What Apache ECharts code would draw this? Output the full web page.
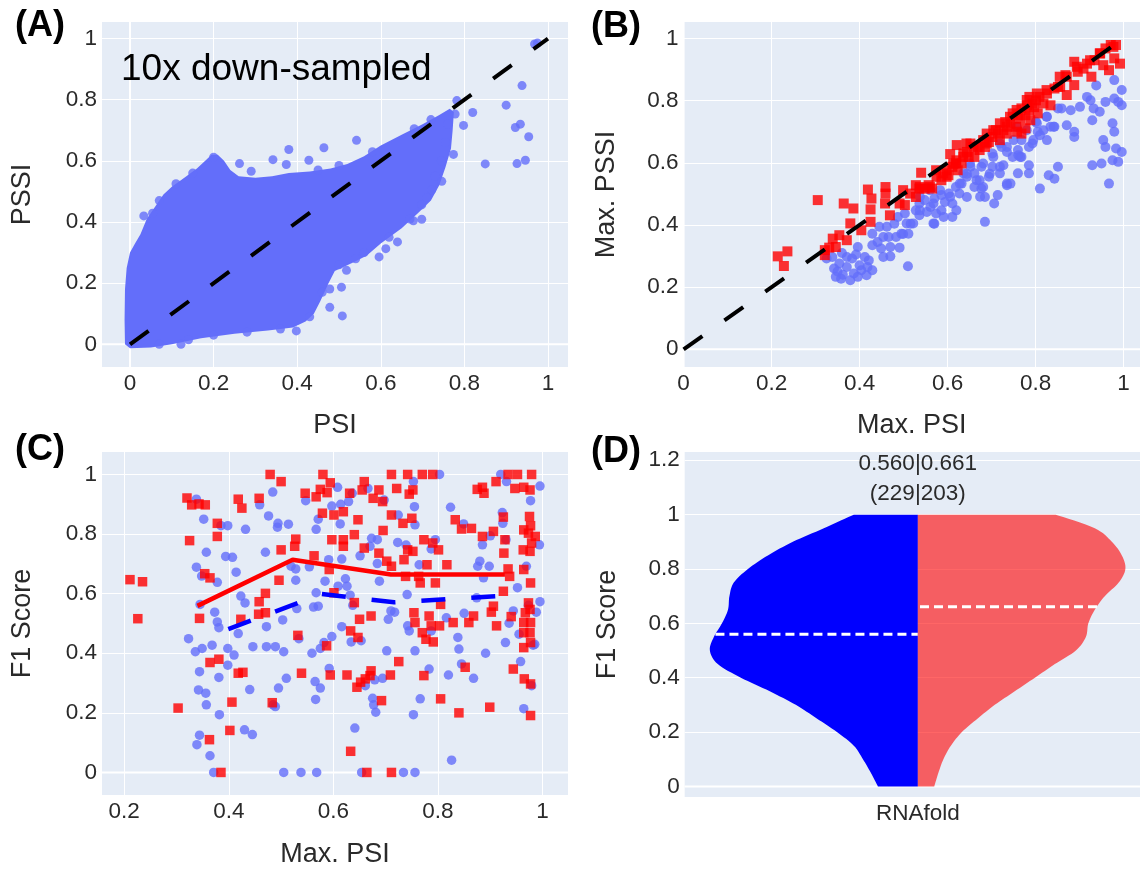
<!DOCTYPE html>
<html>
<head>
<meta charset="utf-8">
<script src="https://cdn.jsdelivr.net/npm/echarts@6/dist/echarts.min.js"></script>
<style>
html, body { margin: 0; padding: 0; background: #ffffff; }
#chart { width: 1140px; height: 869px; }
</style>
</head>
<body>
<div id="chart"></div>
<script>
// ---------- tick labels ----------
const unitTicks = [0, 0.2, 0.4, 0.6, 0.8, 1];
const maxPsiTicksC = [0.2, 0.4, 0.6, 0.8, 1];
const f1TicksD = [0, 0.2, 0.4, 0.6, 0.8, 1, 1.2];
const violinCategory = ['RNAfold'];
const diagonal = [[0, 0], [1, 1]];

// ---------- (A) PSI vs PSSI, dense cloud outline + sparse edge points ----------
const cloudOutline = [
  [-0.012, 0.0], [-0.013, 0.08], [-0.012, 0.18], [-0.008, 0.25], [0.0, 0.3], [0.012, 0.33],
  [0.025, 0.36], [0.04, 0.41], [0.06, 0.45], [0.08, 0.49], [0.1, 0.515], [0.13, 0.545],
  [0.16, 0.575], [0.18, 0.6], [0.195, 0.62], [0.21, 0.62], [0.225, 0.6], [0.24, 0.57],
  [0.26, 0.55], [0.3, 0.545], [0.34, 0.55], [0.38, 0.56], [0.43, 0.565], [0.48, 0.575],
  [0.52, 0.59], [0.56, 0.615], [0.6, 0.65], [0.65, 0.685], [0.7, 0.72], [0.74, 0.75],
  [0.765, 0.77], [0.775, 0.76], [0.772, 0.7], [0.768, 0.64], [0.755, 0.58], [0.74, 0.52],
  [0.72, 0.47], [0.69, 0.43], [0.65, 0.38], [0.6, 0.33], [0.566, 0.29], [0.53, 0.265],
  [0.49, 0.24], [0.475, 0.2], [0.455, 0.14], [0.44, 0.1], [0.42, 0.075], [0.39, 0.055],
  [0.33, 0.045], [0.25, 0.035], [0.17, 0.02], [0.1, 0.0], [0.05, -0.01], [0.0, -0.013]
];
const cloudEdgePoints = [
  [0.968, 0.982], [0.975, 0.985], [0.938, 0.846], [0.9, 0.782], [0.82, 0.758], [0.798, 0.716],
  [0.778, 0.753], [0.782, 0.797], [0.922, 0.709], [0.934, 0.72], [0.954, 0.679], [0.85, 0.59],
  [0.926, 0.591], [0.946, 0.602], [0.774, 0.621], [0.746, 0.533], [0.722, 0.505], [0.698, 0.456],
  [0.698, 0.409], [0.678, 0.404], [0.64, 0.335], [0.612, 0.313], [0.596, 0.286], [0.54, 0.28],
  [0.518, 0.242], [0.506, 0.187], [0.478, 0.181], [0.478, 0.121], [0.508, 0.093], [0.398, 0.044],
  [0.122, 0.0], [0.542, 0.667], [0.464, 0.643], [0.38, 0.637], [0.428, 0.602], [0.262, 0.591],
  [0.2, 0.612], [0.033, 0.42], [0.054, 0.429], [0.29, 0.566], [0.342, 0.604], [0.374, 0.588],
  [0.76, 0.72], [0.755, 0.66], [0.745, 0.6], [0.73, 0.55], [0.71, 0.48], [0.67, 0.41],
  [0.62, 0.35], [0.56, 0.3], [0.5, 0.26], [0.46, 0.17], [0.43, 0.09], [0.36, 0.05],
  [0.28, 0.04], [0.2, 0.03], [0.14, 0.015], [0.07, 0.0], [0.45, 0.57], [0.5, 0.585],
  [0.58, 0.63], [0.68, 0.705], [0.72, 0.735], [0.15, 0.56], [0.11, 0.525], [0.07, 0.47]
];

// ---------- (B) Max. PSI vs Max. PSSI ----------
const maxPssiBlue = [
  [0.325, 0.292], [0.338, 0.297], [0.342, 0.26], [0.346, 0.233], [0.358, 0.227], [0.354, 0.276],
  [0.371, 0.265], [0.379, 0.222], [0.387, 0.244], [0.396, 0.233], [0.404, 0.254], [0.416, 0.238],
  [0.429, 0.254], [0.412, 0.297], [0.396, 0.329], [0.383, 0.292], [0.371, 0.297], [0.429, 0.335],
  [0.441, 0.345], [0.449, 0.324], [0.429, 0.372], [0.445, 0.394], [0.454, 0.361], [0.47, 0.329],
  [0.47, 0.299], [0.491, 0.327], [0.51, 0.267], [0.462, 0.394], [0.479, 0.404], [0.487, 0.426],
  [0.495, 0.372], [0.511, 0.372], [0.516, 0.404], [0.503, 0.437], [0.528, 0.447], [0.536, 0.469],
  [0.548, 0.48], [0.561, 0.458], [0.57, 0.404], [0.574, 0.437], [0.586, 0.447], [0.594, 0.474],
  [0.611, 0.426], [0.611, 0.469], [0.603, 0.501], [0.619, 0.522], [0.632, 0.533], [0.644, 0.555],
  [0.644, 0.49], [0.661, 0.566], [0.661, 0.522], [0.673, 0.544], [0.685, 0.49], [0.685, 0.41],
  [0.677, 0.517], [0.694, 0.555], [0.702, 0.587], [0.706, 0.469], [0.714, 0.496], [0.719, 0.566],
  [0.727, 0.592], [0.735, 0.533], [0.743, 0.533], [0.748, 0.619], [0.76, 0.641], [0.768, 0.619],
  [0.785, 0.592], [0.785, 0.566], [0.793, 0.662], [0.805, 0.7], [0.826, 0.673], [0.834, 0.716],
  [0.826, 0.748], [0.851, 0.775], [0.843, 0.716], [0.83, 0.56], [0.843, 0.549], [0.851, 0.587],
  [0.871, 0.721], [0.88, 0.769], [0.888, 0.7], [0.888, 0.683], [0.901, 0.78], [0.917, 0.812],
  [0.925, 0.801], [0.932, 0.775], [0.929, 0.737], [0.938, 0.849], [0.929, 0.592], [0.95, 0.598],
  [0.954, 0.673], [0.959, 0.651], [0.967, 0.533], [0.975, 0.727], [0.979, 0.7], [0.975, 0.608],
  [0.983, 0.646], [0.988, 0.603], [0.996, 0.635], [0.988, 0.796], [0.996, 0.785], [0.979, 0.807],
  [0.979, 0.866], [0.996, 0.834], [0.959, 0.796], [0.946, 0.764], [0.81, 0.517], [0.785, 0.651],
  [0.768, 0.673], [0.76, 0.566], [0.735, 0.635], [0.723, 0.651], [0.702, 0.63], [0.677, 0.587],
  [0.652, 0.587], [0.636, 0.566], [0.627, 0.501], [0.586, 0.496], [0.57, 0.485], [0.553, 0.442],
  [0.536, 0.431], [0.466, 0.361], [0.483, 0.361], [0.454, 0.297], [0.421, 0.286], [0.859, 0.775],
  [0.801, 0.732], [0.818, 0.705], [0.81, 0.689],
  [0.507, 0.405], [0.499, 0.371], [0.537, 0.447], [0.568, 0.469], [0.583, 0.512], [0.606, 0.491],
  [0.628, 0.533], [0.644, 0.565], [0.666, 0.544], [0.681, 0.598], [0.704, 0.619], [0.719, 0.587],
  [0.735, 0.651], [0.75, 0.673], [0.765, 0.619], [0.78, 0.705], [0.795, 0.673], [0.803, 0.727],
  [0.825, 0.748], [0.841, 0.716], [0.62, 0.447], [0.591, 0.426], [0.681, 0.522], [0.735, 0.528],
  [0.761, 0.624], [0.56, 0.512], [0.537, 0.491], [0.522, 0.405], [0.568, 0.405], [0.674, 0.491],
  [0.719, 0.662], [0.696, 0.565], [0.757, 0.716], [0.651, 0.598], [0.35, 0.25], [0.362, 0.24],
  [0.4, 0.27], [0.392, 0.305], [0.36, 0.31], [0.418, 0.265]
];
const maxPssiRed = [
  [0.214, 0.299], [0.236, 0.315], [0.228, 0.268], [0.305, 0.48], [0.364, 0.469], [0.386, 0.453],
  [0.419, 0.514], [0.427, 0.485], [0.425, 0.45], [0.459, 0.522], [0.459, 0.501], [0.458, 0.469],
  [0.469, 0.431], [0.425, 0.41], [0.404, 0.383], [0.379, 0.405], [0.354, 0.367], [0.339, 0.356],
  [0.371, 0.351], [0.321, 0.319], [0.331, 0.327], [0.346, 0.329], [0.321, 0.303], [0.499, 0.512],
  [0.491, 0.469], [0.503, 0.464], [0.528, 0.49], [0.54, 0.568], [0.528, 0.528], [0.548, 0.517],
  [0.565, 0.517], [0.574, 0.576], [0.586, 0.544], [0.598, 0.555], [0.606, 0.628], [0.619, 0.598],
  [0.623, 0.576], [0.621, 0.657], [0.636, 0.619], [0.644, 0.635], [0.652, 0.662], [0.661, 0.619],
  [0.673, 0.641], [0.685, 0.651], [0.694, 0.667], [0.702, 0.683], [0.71, 0.705], [0.719, 0.673],
  [0.727, 0.705], [0.735, 0.694], [0.743, 0.726], [0.748, 0.759], [0.756, 0.716], [0.765, 0.742],
  [0.768, 0.775], [0.777, 0.753], [0.785, 0.769], [0.786, 0.812], [0.793, 0.791], [0.801, 0.801],
  [0.809, 0.812], [0.818, 0.791], [0.826, 0.823], [0.834, 0.785], [0.851, 0.844], [0.855, 0.877],
  [0.871, 0.818], [0.888, 0.85], [0.888, 0.925], [0.896, 0.893], [0.909, 0.903], [0.917, 0.919],
  [0.927, 0.877], [0.934, 0.93], [0.946, 0.952], [0.959, 0.968], [0.971, 0.979], [0.983, 0.979],
  [0.979, 0.936], [0.992, 0.919], [0.967, 0.898], [0.954, 0.914], [0.868, 0.882], [0.843, 0.839],
  [0.731, 0.731], [0.76, 0.753], [0.781, 0.785], [0.797, 0.779], [0.714, 0.694], [0.689, 0.662],
  [0.668, 0.651], [0.648, 0.619], [0.632, 0.598], [0.611, 0.587], [0.602, 0.56], [0.59, 0.566],
  [0.557, 0.528], [0.536, 0.517], [0.758, 0.7], [0.777, 0.711], [0.788, 0.737], [0.805, 0.759],
  [0.768, 0.694],
  [0.515, 0.501], [0.537, 0.522], [0.56, 0.522], [0.575, 0.555], [0.598, 0.576], [0.62, 0.608],
  [0.636, 0.63], [0.659, 0.651], [0.681, 0.673], [0.704, 0.705], [0.719, 0.727], [0.742, 0.748],
  [0.757, 0.77], [0.78, 0.802], [0.803, 0.823], [0.825, 0.834], [0.856, 0.845], [0.871, 0.877],
  [0.894, 0.909], [0.924, 0.93], [0.947, 0.952], [0.977, 0.973], [0.735, 0.716], [0.689, 0.694],
  [0.643, 0.662], [0.613, 0.597]
];

// ---------- (C) Max. PSI vs F1 score ----------
const f1Blue = [
  [0.338, 0.917], [0.352, 0.85], [0.357, 0.739], [0.338, 0.689], [0.348, 0.659], [0.378, 0.638],
  [0.373, 0.538], [0.378, 0.505], [0.381, 0.486], [0.323, 0.449], [0.336, 0.405], [0.349, 0.416],
  [0.368, 0.427], [0.344, 0.338], [0.381, 0.319], [0.342, 0.277], [0.356, 0.266], [0.357, 0.227],
  [0.382, 0.194], [0.344, 0.125], [0.339, 0.093], [0.364, 0.056], [0.371, 0.0], [0.345, 0.564],
  [0.385, 0.828], [0.398, 0.828], [0.394, 0.725], [0.407, 0.722], [0.414, 0.672], [0.398, 0.416],
  [0.41, 0.394], [0.398, 0.36], [0.418, 0.466], [0.423, 0.592], [0.431, 0.569], [0.44, 0.278],
  [0.43, 0.143], [0.445, 0.127], [0.432, 0.816], [0.446, 0.422], [0.459, 0.898], [0.47, 0.739],
  [0.472, 0.489], [0.472, 0.422], [0.476, 0.861], [0.484, 0.941], [0.485, 0.227], [0.489, 0.422],
  [0.489, 0.221], [0.493, 0.823], [0.494, 0.836], [0.495, 0.283], [0.503, 0.512], [0.505, 0.405],
  [0.505, 0.0], [0.51, 0.316], [0.514, 0.833], [0.519, 0.692], [0.528, 0.683], [0.528, 0.645],
  [0.53, 0.55], [0.534, 0.449], [0.538, 0.0], [0.547, 0.912], [0.554, 0.69], [0.559, 0.4],
  [0.562, 0.555], [0.565, 0.305], [0.566, 0.245], [0.567, 0.816], [0.571, 0.85], [0.567, 0.603],
  [0.571, 0.558], [0.568, 0.0], [0.575, 0.416], [0.575, 0.283], [0.582, 0.436], [0.584, 0.642],
  [0.591, 0.714], [0.592, 0.349], [0.597, 0.456], [0.597, 0.894], [0.608, 0.957], [0.609, 0.625],
  [0.614, 0.9], [0.613, 0.834], [0.616, 0.716], [0.616, 0.489], [0.623, 0.65], [0.626, 0.625],
  [0.629, 0.909], [0.632, 0.595], [0.634, 0.438], [0.636, 0.937], [0.637, 0.561], [0.641, 0.149],
  [0.653, 0.442], [0.651, 0.727], [0.654, 0.0], [0.661, 0.291], [0.666, 0.953], [0.67, 0.759],
  [0.673, 0.786], [0.675, 0.249], [0.677, 0.227], [0.679, 0.311], [0.681, 0.202], [0.684, 0.701],
  [0.684, 0.781], [0.688, 0.642], [0.694, 0.316], [0.697, 0.914], [0.702, 0.408], [0.705, 0.514],
  [0.71, 0.542], [0.717, 0.538], [0.723, 0.772], [0.724, 0.864], [0.734, 0.0], [0.739, 0.763],
  [0.741, 0.597], [0.742, 0.492], [0.745, 0.475], [0.753, 0.976], [0.753, 0.194], [0.755, 0.892],
  [0.756, 0.408], [0.756, 0.0], [0.756, 0.831], [0.764, 0.697], [0.766, 0.247], [0.783, 0.347],
  [0.787, 0.75], [0.795, 0.781], [0.787, 0.475], [0.803, 1.0], [0.816, 0.519], [0.82, 0.327],
  [0.824, 0.89], [0.826, 0.041], [0.838, 0.453], [0.84, 0.414], [0.845, 0.364], [0.85, 0.534],
  [0.849, 0.834], [0.868, 0.316], [0.874, 0.586], [0.876, 0.692], [0.88, 0.709], [0.885, 0.764],
  [0.887, 0.653], [0.891, 0.4], [0.9, 0.794], [0.898, 0.692], [0.92, 1.0], [0.923, 0.872],
  [0.924, 0.836], [0.929, 0.436], [0.93, 0.781], [0.931, 0.976], [0.936, 0.501], [0.944, 0.542],
  [0.952, 0.62], [0.955, 0.464], [0.958, 0.372], [0.964, 0.214], [0.969, 0.692], [0.973, 0.561],
  [0.977, 0.912], [0.988, 0.538], [0.979, 0.291], [0.982, 0.427], [0.985, 0.43], [0.995, 0.961],
  [0.994, 0.764], [0.995, 0.573]
];
const f1Red = [
  [0.479, 1.0], [0.58, 1.0], [0.711, 1.0], [0.742, 1.0], [0.77, 1.0], [0.79, 1.0], [0.934, 1.0],
  [0.979, 1.0], [0.211, 0.647], [0.235, 0.64], [0.226, 0.516], [0.303, 0.216], [0.32, 0.921],
  [0.329, 0.898], [0.343, 0.901], [0.355, 0.898], [0.325, 0.778], [0.378, 0.836], [0.378, 0.792],
  [0.354, 0.667], [0.364, 0.653], [0.344, 0.517], [0.364, 0.369], [0.381, 0.38], [0.363, 0.11],
  [0.385, 0.0], [0.406, 0.236], [0.402, 0.141], [0.418, 0.333], [0.427, 0.336], [0.418, 0.917],
  [0.425, 0.887], [0.423, 0.514], [0.458, 0.92], [0.458, 0.573], [0.457, 0.531], [0.47, 0.536],
  [0.47, 0.601], [0.5, 0.976], [0.5, 0.747], [0.496, 0.645], [0.483, 0.234], [0.528, 0.783],
  [0.526, 0.759], [0.532, 0.46], [0.539, 0.333], [0.546, 0.937], [0.563, 0.727], [0.567, 0.925],
  [0.579, 0.87], [0.575, 0.95], [0.588, 0.939], [0.594, 0.972], [0.587, 0.425], [0.592, 0.681],
  [0.597, 0.781], [0.594, 0.327], [0.601, 0.603], [0.601, 0.864], [0.619, 0.875], [0.619, 0.781],
  [0.619, 0.759], [0.626, 0.327], [0.631, 0.937], [0.633, 0.071], [0.633, 0.475], [0.64, 0.57],
  [0.647, 0.453], [0.647, 0.848], [0.64, 0.798], [0.65, 0.514], [0.659, 0.753], [0.655, 0.948],
  [0.659, 0.976], [0.645, 0.286], [0.652, 0.303], [0.661, 0.314], [0.67, 0.325], [0.672, 0.341],
  [0.664, 0.0], [0.672, 0.525], [0.676, 0.92], [0.687, 0.948], [0.694, 0.909], [0.687, 0.736],
  [0.692, 0.241], [0.695, 0.812], [0.702, 0.709], [0.711, 0.864], [0.711, 0.692], [0.709, 0.327],
  [0.711, 0.0], [0.721, 0.953], [0.725, 0.372], [0.733, 0.836], [0.735, 0.714], [0.738, 0.658],
  [0.742, 0.747], [0.745, 0.934], [0.75, 0.853], [0.752, 0.948], [0.752, 0.742], [0.754, 0.536],
  [0.756, 0.503], [0.763, 0.658], [0.766, 0.636], [0.77, 0.469], [0.773, 0.781], [0.773, 0.325],
  [0.777, 0.447], [0.779, 0.697], [0.783, 0.525], [0.787, 0.492], [0.79, 0.77], [0.791, 0.438],
  [0.795, 0.636], [0.801, 0.747], [0.803, 0.492], [0.805, 0.564], [0.805, 0.247], [0.817, 0.697],
  [0.829, 0.503], [0.833, 0.848], [0.84, 0.2], [0.845, 0.817], [0.852, 0.353], [0.859, 0.503],
  [0.864, 0.819], [0.868, 0.525], [0.875, 0.95], [0.885, 0.957], [0.888, 0.937], [0.885, 0.792],
  [0.899, 0.219], [0.902, 0.538], [0.906, 0.558], [0.906, 0.809], [0.911, 0.976], [0.912, 0.492],
  [0.925, 0.608], [0.925, 0.857], [0.926, 0.736], [0.928, 0.781], [0.934, 0.683], [0.937, 0.658],
  [0.94, 0.523], [0.944, 0.347], [0.947, 0.953], [0.952, 1.0], [0.964, 0.957], [0.964, 0.681],
  [0.963, 0.747], [0.964, 0.814], [0.967, 0.536], [0.964, 0.503], [0.964, 0.419], [0.965, 0.314],
  [0.973, 0.803], [0.975, 0.859], [0.976, 0.948], [0.977, 0.828], [0.976, 0.742], [0.977, 0.636],
  [0.976, 0.547], [0.977, 0.503], [0.976, 0.469], [0.977, 0.436], [0.977, 0.297], [0.977, 0.191],
  [0.986, 0.792], [0.979, 0.77], [0.973, 0.569], [0.964, 0.469]
];
// binned mean F1 along Max. PSI
const f1TrendRed = [[0.34, 0.559], [0.522, 0.714], [0.71, 0.664], [0.928, 0.664]];
const f1TrendBlue = [[0.399, 0.481], [0.578, 0.599], [0.716, 0.571], [0.915, 0.592]];

// ---------- (D) split violin of F1 scores ----------
const violinF1 = [1.0, 0.95, 0.9, 0.85, 0.8, 0.75, 0.7, 0.65, 0.6, 0.55, 0.5,
                  0.45, 0.4, 0.35, 0.3, 0.25, 0.2, 0.15, 0.1, 0.05, 0.0];
const violinDensityBlue = [0.308, 0.452, 0.601, 0.721, 0.817, 0.885, 0.906, 0.913, 0.942, 0.981, 1.0,
                           0.962, 0.851, 0.712, 0.587, 0.486, 0.389, 0.308, 0.264, 0.226, 0.192];
const violinDensityRed = [0.663, 0.851, 0.933, 0.981, 0.998, 0.966, 0.899, 0.851, 0.82, 0.808, 0.76,
                          0.659, 0.563, 0.466, 0.37, 0.288, 0.212, 0.159, 0.123, 0.099, 0.079];
const groupMeans = [0.560, 0.661];
const groupCounts = [229, 203];

// ---------- styling ----------
const FONT = '"Liberation Sans", Arial, sans-serif';
const TEXT = '#2a2a2a';
const PLOT_BG = '#E5ECF6';
const BLUE_PT = '#636EFA';
const RED_PT = '#FF0000';
const VIOLIN_HALF = 0.892;   // max half-width of the violin in x-axis units
const TICK_SIZE = 22.5;
const TITLE_SIZE = 27;

function valueAxis(gridIndex, min, max, ticks, name, nameGap) {
  return {
    type: 'value', gridIndex, min, max, name,
    nameLocation: 'middle', nameGap,
    nameTextStyle: { fontSize: TITLE_SIZE, color: TEXT, fontFamily: FONT },
    axisLine: { show: false },
    axisTick: { show: false, customValues: ticks },
    axisLabel: { customValues: ticks, fontSize: TICK_SIZE, color: TEXT, fontFamily: FONT, margin: 5 },
    splitLine: { show: true, lineStyle: { color: '#ffffff', width: 1 } }
  };
}

// white zero lines drawn beneath the marks
function zeroLines(withVertical) {
  return function (params, api) {
    const r = params.coordSys;
    const p = api.coord([0, 0]);
    const children = [{
      type: 'line',
      shape: { x1: r.x, y1: p[1], x2: r.x + r.width, y2: p[1] },
      style: { stroke: '#ffffff', lineWidth: 2 }
    }];
    if (withVertical && p[0] >= r.x - 1 && p[0] <= r.x + r.width) {
      children.push({
        type: 'line',
        shape: { x1: p[0], y1: r.y, x2: p[0], y2: r.y + r.height },
        style: { stroke: '#ffffff', lineWidth: 2 }
      });
    }
    return { type: 'group', children };
  };
}
function zeroSeries(idx, withVertical) {
  return {
    type: 'custom', xAxisIndex: idx, yAxisIndex: idx, z: 1, silent: true,
    data: [[0, 0]], renderItem: zeroLines(withVertical)
  };
}

function diagSeries(idx) {
  return {
    type: 'line', xAxisIndex: idx, yAxisIndex: idx, z: 10, silent: true,
    data: diagonal, symbol: 'none',
    lineStyle: { color: '#000000', width: 4, type: [23, 27], cap: 'butt' }
  };
}

function densityAt(dens, f) {
  for (let i = 0; i < violinF1.length - 1; i++) {
    const a = violinF1[i], b = violinF1[i + 1];
    if (f <= a && f >= b) {
      const t = (a - f) / (a - b);
      return dens[i] + t * (dens[i + 1] - dens[i]);
    }
  }
  return 0;
}

// Catmull-Rom through the pixel points so the violin outline renders as a smooth curve
function smoothPath(pts, steps) {
  const out = [];
  for (let i = 0; i < pts.length - 1; i++) {
    const p0 = pts[Math.max(i - 1, 0)], p1 = pts[i], p2 = pts[i + 1], p3 = pts[Math.min(i + 2, pts.length - 1)];
    for (let s = 0; s < steps; s++) {
      const t = s / steps, t2 = t * t, t3 = t2 * t;
      out.push([0, 1].map(k => 0.5 * ((2 * p1[k]) + (-p0[k] + p2[k]) * t +
        (2 * p0[k] - 5 * p1[k] + 4 * p2[k] - p3[k]) * t2 + (-p0[k] + 3 * p1[k] - 3 * p2[k] + p3[k]) * t3)));
    }
  }
  out.push(pts[pts.length - 1]);
  return out;
}

function renderViolin(params, api) {
  const idx = params.dataIndex;
  const dens = idx === 0 ? violinDensityBlue : violinDensityRed;
  const sign = idx === 0 ? -1 : 1;
  const edge = violinF1.map((f, i) => api.coord([sign * dens[i] * VIOLIN_HALF, f]));
  const pts = smoothPath(edge, 8);
  pts.push(api.coord([0, violinF1[violinF1.length - 1]]));
  pts.push(api.coord([0, violinF1[0]]));
  const m = groupMeans[idx];
  const a = api.coord([sign * densityAt(dens, m) * VIOLIN_HALF, m]);
  const b = api.coord([0, m]);
  return {
    type: 'group',
    children: [
      { type: 'polygon', shape: { points: pts },
        style: { fill: idx === 0 ? '#0000FF' : 'rgba(255,0,0,0.6)' } },
      { type: 'line', shape: { x1: a[0], y1: a[1], x2: b[0], y2: b[1] },
        style: { stroke: '#ffffff', lineWidth: 3, lineDash: [9, 5] } }
    ]
  };
}

function renderCloud(params, api) {
  return {
    type: 'polygon',
    shape: { points: cloudOutline.map(p => api.coord(p)) },
    style: { fill: BLUE_PT }
  };
}

const gridBox = { show: true, backgroundColor: PLOT_BG, borderWidth: 0, containLabel: false };

const option = {
  animation: false,
  backgroundColor: '#ffffff',
  textStyle: { fontFamily: FONT },
  grid: [
    Object.assign({ left: 102, top: 22, width: 466, height: 345 }, gridBox),
    Object.assign({ left: 683.6, top: 22, width: 456.4, height: 345 }, gridBox),
    Object.assign({ left: 102, top: 452, width: 466, height: 345 }, gridBox),
    Object.assign({ left: 684.7, top: 452, width: 455.3, height: 345 }, gridBox)
  ],
  xAxis: [
    valueAxis(0, -0.067, 1.048, unitTicks, 'PSI', 45),
    valueAxis(1, 0, 1.0375, unitTicks, 'Max. PSI', 45),
    valueAxis(2, 0.1575, 1.0486, maxPsiTicksC, 'Max. PSI', 46),
    Object.assign(valueAxis(3, -1, 0.953, [0], '', 44), {
      axisLabel: { customValues: [0], fontSize: TICK_SIZE, color: TEXT, fontFamily: FONT, margin: 5,
                   formatter: () => violinCategory[0] },
      splitLine: { show: false }
    })
  ],
  yAxis: [
    valueAxis(0, -0.074, 1.054, unitTicks, 'PSSI', 66),
    valueAxis(1, -0.057, 1.053, unitTicks, 'Max. PSSI', 64),
    valueAxis(2, -0.0757, 1.0754, unitTicks, 'F1 Score', 66),
    valueAxis(3, -0.039, 1.2305, f1TicksD, 'F1 Score', 64)
  ],
  series: [
    // (A)
    zeroSeries(0, true),
    { type: 'custom', xAxisIndex: 0, yAxisIndex: 0, z: 3, silent: true,
      data: [[0, 0]], renderItem: renderCloud },
    { type: 'scatter', xAxisIndex: 0, yAxisIndex: 0, z: 4, silent: true,
      data: cloudEdgePoints, symbol: 'circle', symbolSize: 9,
      itemStyle: { color: BLUE_PT } },
    diagSeries(0),
    // (B)
    zeroSeries(1, true),
    { type: 'scatter', xAxisIndex: 1, yAxisIndex: 1, z: 3, silent: true,
      data: maxPssiBlue, symbol: 'circle', symbolSize: 10, itemStyle: { color: BLUE_PT } },
    { type: 'scatter', xAxisIndex: 1, yAxisIndex: 1, z: 4, silent: true,
      data: maxPssiRed, symbol: 'rect', symbolSize: 10, itemStyle: { color: RED_PT } },
    diagSeries(1),
    // (C)
    zeroSeries(2, false),
    { type: 'scatter', xAxisIndex: 2, yAxisIndex: 2, z: 3, silent: true,
      data: f1Blue, symbol: 'circle', symbolSize: 9.5, itemStyle: { color: BLUE_PT } },
    { type: 'scatter', xAxisIndex: 2, yAxisIndex: 2, z: 4, silent: true,
      data: f1Red, symbol: 'rect', symbolSize: 9.5, itemStyle: { color: RED_PT } },
    { type: 'line', xAxisIndex: 2, yAxisIndex: 2, z: 10, silent: true,
      data: f1TrendRed, symbol: 'none', lineStyle: { color: '#FF0000', width: 4.5 } },
    { type: 'line', xAxisIndex: 2, yAxisIndex: 2, z: 10, silent: true,
      data: f1TrendBlue, symbol: 'none',
      lineStyle: { color: '#0000FF', width: 4.5, type: [24, 26], cap: 'butt' } },
    // (D)
    zeroSeries(3, false),
    { type: 'custom', xAxisIndex: 3, yAxisIndex: 3, z: 3, silent: true,
      data: [[0, 0], [0, 0]], renderItem: renderViolin }
  ],
  graphic: [
    { type: 'text', left: 15, top: 8, style: { text: '(A)', font: 'bold 36px ' + FONT, fill: '#000' } },
    { type: 'text', left: 591, top: 9, style: { text: '(B)', font: 'bold 36px ' + FONT, fill: '#000' } },
    { type: 'text', left: 15, top: 432, style: { text: '(C)', font: 'bold 36px ' + FONT, fill: '#000' } },
    { type: 'text', left: 591, top: 434, style: { text: '(D)', font: 'bold 36px ' + FONT, fill: '#000' } },
    { type: 'text', left: 121, top: 51, z: 20,
      style: { text: '10x down-sampled', font: '37px ' + FONT, fill: '#000' } },
    { type: 'text', x: 917.8, y: 464, z: 20,
      style: { text: groupMeans.map(v => v.toFixed(3)).join('|'), font: TICK_SIZE + 'px ' + FONT, fill: TEXT,
               textAlign: 'center', textVerticalAlign: 'middle', align: 'center', verticalAlign: 'middle' } },
    { type: 'text', x: 917.8, y: 494, z: 20,
      style: { text: '(' + groupCounts.join('|') + ')', font: TICK_SIZE + 'px ' + FONT, fill: TEXT,
               textAlign: 'center', textVerticalAlign: 'middle', align: 'center', verticalAlign: 'middle' } }
  ]
};

const chart = echarts.init(document.getElementById('chart'), null, { renderer: 'canvas' });
chart.setOption(option);
</script>
</body>
</html>
